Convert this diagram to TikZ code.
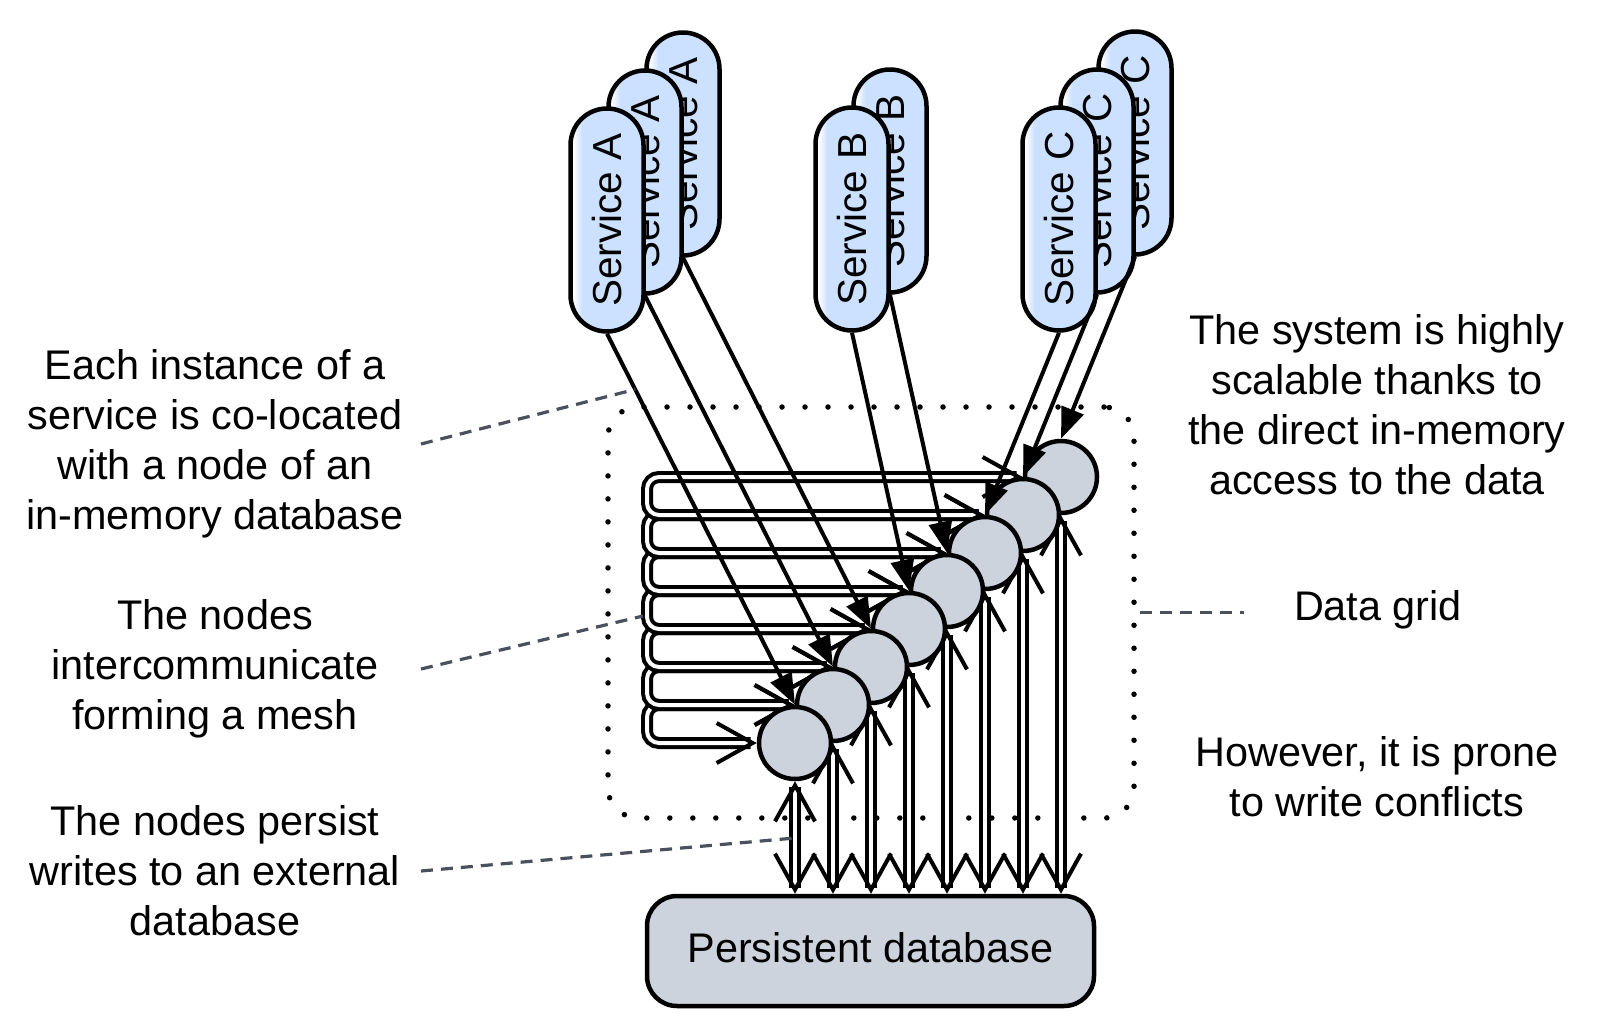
\documentclass[tikz,border=0pt]{standalone}
\usepackage{fontspec}
\setmainfont{Liberation Sans}
\usetikzlibrary{arrows.meta,shapes.misc,backgrounds,calc}
\definecolor{my grey}{HTML}{CDD3DC}
\definecolor{my blue}{HTML}{CCE1FF}
\definecolor{my slate}{HTML}{4A505C}
\pgfdeclarehorizontalshading{pill fade}{100bp}{rgb(0bp)=(1,1,1); rgb(27bp)=(1,1,1); rgb(33bp)=(.8,.882,1); rgb(100bp)=(.8,.882,1)}

\begin{document}
\begin{tikzpicture}[x=1pt, y=-1pt,
    every node/.style={font=\fontsize{41.4pt}{50pt}\selectfont, inner sep=0pt},
    store/.style={circle, draw, line width=4.5pt, fill=my grey, minimum size=72pt},
    service/.style={rounded rectangle, draw, line width=4.5pt, shading=pill fade, rotate=90,
        minimum width=223pt, minimum height=73pt, font=\fontsize{40.5pt}{48pt}\selectfont},
    call/.style={line width=4pt, -{Triangle[length=31pt,width=23pt]}},
    link/.style={line width=4pt, double=white, double distance=4pt,
        {Straight Barb[length=36pt,width=40pt,line width=4pt]}-{Straight Barb[length=36pt,width=40pt,line width=4pt]}},
    leader/.style={my slate, line width=3.2pt, dash pattern=on 12pt off 8pt},
    gridbox/.style={draw, line width=5.5pt, line cap=round, dash pattern=on 0pt off 23pt,
        rounded corners=30pt, minimum width=526pt, minimum height=411pt}]
    \useasboundingbox (0,0) rectangle (1599,1029);

    % services, back to front
    \node [service] (svcA3) at (683,144) {Service A};
    \node [service] (svcA2) at (645,182) {Service A};
    \node [service] (svcA1) at (607,220) {Service A};
    \node [service] (svcB2) at (890,181) {Service B};
    \node [service] (svcB1) at (852,219) {Service B};
    \node [service] (svcC3) at (1135,143) {Service C};
    \node [service] (svcC2) at (1097,181) {Service C};
    \node [service] (svcC1) at (1059,219) {Service C};

    % in-memory nodes
    \foreach \i in {8,...,1}
        \node [store] (n\i) at ({795+38*(\i-1)}, {743-38*(\i-1)}) {};
    \node [draw, line width=4.5pt, fill=my grey, rounded corners=30pt, minimum width=447pt, minimum height=110pt,
        text depth=8pt] (db) at (870.5,951) {Persistent database};

    \coordinate (trunk) at (647,0);
    \begin{scope}[on background layer]
        \node [gridbox] (grid) at (871,612.5) {};
        \foreach \k [count=\j from 2] in {1,...,7}
            \draw [link, rounded corners=12pt] (n\k.west) -- (n\k.west -| trunk) -- (n\j.west -| trunk) -- (n\j.west);
        \foreach \i in {1,...,8}
            \draw [link] (n\i.south) -- (n\i.south |- db.north);
    \end{scope}

    \draw [call] (svcA1.west) -- (n1.north);
    \draw [call] (svcA2.west) -- (n2.north);
    \draw [call] (svcA3.west) -- (n3.north);
    \draw [call] (svcB1.west) -- (n4.north);
    \draw [call] (svcB2.west) -- (n5.north);
    \draw [call] (svcC1.west) -- (n6.north);
    \draw [call] (svcC2.west) -- (n7.north);
    \draw [call] (svcC3.west) -- (n8.north);

    % labels
    \node [align=center] (lblinst) at (215,444) {Each instance of a\\service is co-located\\with a node of an\\in-memory database};
    \node [align=center] (lblmesh) at (215,669) {The nodes\\intercommunicate\\forming a mesh};
    \node [align=center] (lblpersist) at (215,871) {The nodes persist\\writes to an external\\database};
    \node [align=center] (lblscale) at (1377,405) {The system is highly\\scalable thanks to\\the direct in-memory\\access to the data};
    \node (lblgrid) at (1378,610) {Data grid};
    \node [align=center] (lblconf) at (1377,777) {However, it is prone\\to write conflicts};

    \coordinate (lx) at (421,0);
    \coordinate (meshpt) at (643,616);
    \coordinate (persistpt) at (795,838);
    \draw [leader] (lblinst.east -| lx) -- ($(svcA1.west)!.15!(n1.north)$);
    \draw [leader] (lblmesh.east -| lx) -- (meshpt);
    \draw [leader] (lblpersist.east -| lx) -- (persistpt);
    \draw [leader] ([xshift=3pt]grid.east) -- ([xshift=-50pt]lblgrid.west |- grid.east);
\end{tikzpicture}
\end{document}
